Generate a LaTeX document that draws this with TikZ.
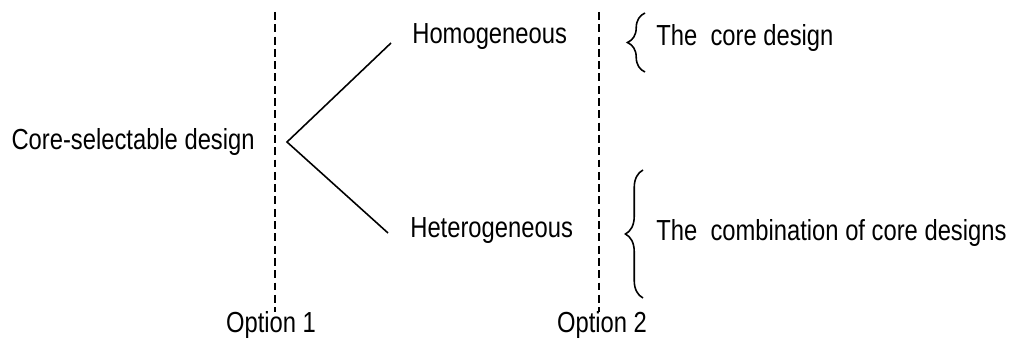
\documentclass[tikz,border=0pt]{standalone}
\usepackage{fontspec}
\setmainfont{Liberation Sans}[FakeStretch=0.82]
\usetikzlibrary{decorations.pathreplacing}

\begin{document}
\begin{tikzpicture}[x=0.02cm, y=-0.02cm, font=\fontsize{16.5}{20}\selectfont,
    lbl/.style={inner sep=0pt},
    optline/.style={line width=1.1pt, dash pattern=on 4.5pt off 2.5pt},
    branch/.style={line width=0.9pt},
    bracebox/.style={decorate, decoration={brace, amplitude=10pt}, line width=0.9pt}]
  \useasboundingbox (0,0) rectangle (1016,341);
  % option lines
  \coordinate (o1top) at (275,12);
  \coordinate (o1bot) at (275,312);
  \coordinate (o2top) at (599,12);
  \coordinate (o2bot) at (599,312);
  \draw[optline] (o1top) -- (o1bot);
  \draw[optline] (o2top) -- (o2bot);
  \node[lbl] (opt1) at (271,325) {Option 1};
  \node[lbl] (opt2) at (602,325) {Option 2};
  % tree
  \node[lbl, anchor=east] (core) at (255,142) {Core-selectable design};
  \coordinate (fork) at (287,142);
  \node[lbl, anchor=west] (homo) at (412,37) {Homogeneous};
  \node[lbl, anchor=west] (hetero) at (410,231) {Heterogeneous};
  \coordinate (homoend) at (391,43);
  \coordinate (heteroend) at (388,233);
  \draw[branch] (homoend) -- (fork) -- (heteroend);
  % braces
  \coordinate (b1bot) at (645,72);
  \coordinate (b1top) at (645,13);
  \coordinate (b2bot) at (643,298);
  \coordinate (b2top) at (643,170);
  \draw[bracebox] (b1bot) -- (b1top);
  \draw[bracebox] (b2bot) -- (b2top);
  \node[lbl, anchor=west] (single) at (656,38) {The\ \ core design};
  \node[lbl, anchor=west] (combo) at (656,233) {The\ \ combination of core designs};
\end{tikzpicture}
\end{document}
